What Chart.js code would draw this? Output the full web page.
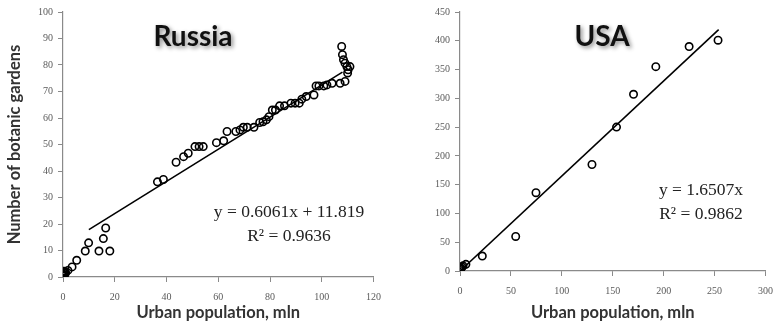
<!DOCTYPE html>
<html>
<head>
<meta charset="utf-8">
<script src="https://cdn.jsdelivr.net/npm/chart.js@4/dist/chart.umd.min.js"></script>
<style>
  html, body { margin: 0; padding: 0; background: #ffffff; }
  #wrap { position: relative; width: 782px; height: 334px; overflow: hidden; }
  #c1 { position: absolute; left: 0; top: 0; }
  #c2 { position: absolute; left: 390px; top: 0; }
</style>
</head>
<body>
<div id="wrap">
  <canvas id="c1" width="390" height="334"></canvas>
  <canvas id="c2" width="392" height="334"></canvas>
</div>
<script>
// ---- Russia data ----
const russiaX = [0.1, 0.2, 0.3, 0.5, 0.6, 0.8, 1.0, 0.2, 0.4, 1.9, 3.5, 5.3, 8.6, 9.9, 13.9, 15.6, 16.5, 18.1,
  36.5, 38.8, 43.7, 46.6, 48.4, 51.0, 52.6, 54.2, 59.3, 62.1, 63.4, 66.8, 68.4, 69.7, 71.2, 73.8,
  76.0, 77.3, 78.6, 79.6, 80.9, 82.1, 83.7, 85.6, 88.1, 89.7, 91.3, 92.3, 94.0, 97.0, 97.8, 98.9,
  100.8, 102.0, 104.0, 107.1, 109.0, 107.7, 108.0, 108.4, 109.0, 109.7, 110.2, 110.9, 110.0];
const russiaY = [0.5, 1.0, 1.5, 2.0, 0.8, 2.0, 1.5, 0.2, 2.2, 2.5, 3.8, 6.3, 9.8, 12.9, 9.8, 14.5, 18.5, 9.8,
  35.9, 36.8, 43.3, 45.4, 46.7, 49.2, 49.2, 49.2, 50.7, 51.4, 54.9, 54.9, 55.5, 56.5, 56.5, 56.5,
  58.3, 58.6, 59.3, 60.5, 63.0, 63.0, 64.6, 64.6, 65.6, 65.6, 65.6, 67.1, 68.1, 68.7, 72.1, 72.1,
  72.1, 72.5, 73.1, 73.1, 73.8, 87.0, 83.9, 82.0, 80.7, 79.4, 78.2, 79.4, 77.0];
const russiaTrendX = [10, 108];
const russiaTrendY = [17.9, 77.3];
const russiaXTicks = [0, 20, 40, 60, 80, 100, 120];
const russiaYTicks = [0, 10, 20, 30, 40, 50, 60, 70, 80, 90, 100];
const russiaEq = ["y = 0.6061x + 11.819", "R² = 0.9636"];

// ---- USA data ----
const usaX = [0, 0.5, 1, 2, 3, 5.8, 21.9, 54.7, 74.6, 129.6, 153.7, 170.4, 192.3, 225, 253.4];
const usaY = [1, 3, 5, 7, 9, 11.6, 26, 60, 136, 185, 250, 307, 355, 390, 401];
const usaTrendX = [0, 254];
const usaTrendY = [0, 419.3];
const usaXTicks = [0, 50, 100, 150, 200, 250, 300];
const usaYTicks = [0, 50, 100, 150, 200, 250, 300, 350, 400, 450];
const usaEq = ["y = 1.6507x", "R² = 0.9862"];

const AXIS = '#8a8a8a';
const TICKTXT = '#5a5a5a';
const tickFont = { family: '"Liberation Serif", "DejaVu Serif", serif', size: 10 };
const titleFont = { family: 'Lato, "Open Sans", sans-serif', size: 16.5, weight: 'bold' };

function pts(xs, ys) { return xs.map((x, i) => ({ x: x, y: ys[i] })); }

const overlay = {
  id: 'overlay',
  afterDraw(chart, args, opts) {
    const ctx = chart.ctx;
    ctx.save();
    ctx.font = 'bold ' + opts.titleSize + 'px Lato, "Open Sans", sans-serif';
    ctx.textAlign = 'center';
    ctx.textBaseline = 'middle';
    ctx.shadowColor = 'rgba(0,0,0,0.45)';
    ctx.shadowBlur = 4;
    ctx.shadowOffsetX = 2;
    ctx.shadowOffsetY = 2;
    ctx.fillStyle = '#111111';
    ctx.fillText(opts.title, opts.titleX, opts.titleY);
    ctx.restore();
    ctx.save();
    ctx.font = '17.5px "Liberation Serif", "DejaVu Serif", serif';
    ctx.textAlign = 'center';
    ctx.textBaseline = 'middle';
    ctx.fillStyle = '#222222';
    ctx.fillText(opts.eq[0], opts.eqX, opts.eqY);
    ctx.fillText(opts.eq[1], opts.eqX, opts.eqY + 24);
    ctx.restore();
  }
};

function makeChart(id, cfg) {
  return new Chart(document.getElementById(id), {
    type: 'scatter',
    data: {
      datasets: [
        {
          type: 'line',
          data: pts(cfg.trendX, cfg.trendY),
          borderColor: '#000000',
          borderWidth: 1.6,
          pointRadius: 0,
          fill: false,
          order: 2
        },
        {
          data: pts(cfg.xs, cfg.ys),
          pointRadius: 3.7,
          pointBorderWidth: 1.6,
          pointBorderColor: '#000000',
          pointBackgroundColor: 'rgba(255,255,255,0)',
          order: 1
        }
      ]
    },
    options: {
      responsive: false,
      animation: false,
      devicePixelRatio: 1,
      layout: { padding: { top: 12, right: 11, left: 0, bottom: 0 } },
      plugins: {
        legend: { display: false },
        tooltip: { enabled: false },
        overlay: cfg.overlay
      },
      scales: {
        x: {
          type: 'linear',
          min: cfg.xTicks[0],
          max: cfg.xTicks[cfg.xTicks.length - 1],
          afterBuildTicks: (s) => { s.ticks = cfg.xTicks.map(v => ({ value: v })); },
          afterFit: (s) => { s.height = cfg.xHeight; },
          grid: { display: true, drawOnChartArea: false, drawTicks: true, tickLength: 5, color: AXIS, lineWidth: 1 },
          border: { display: true, color: AXIS, width: 1.2 },
          ticks: { color: TICKTXT, font: tickFont, padding: 9, maxRotation: 0 },
          title: { display: true, text: 'Urban population, mln', color: '#333333', font: titleFont, padding: { top: 0, bottom: 11 }, align: 'center' }
        },
        y: {
          type: 'linear',
          min: cfg.yTicks[0],
          max: cfg.yTicks[cfg.yTicks.length - 1],
          afterBuildTicks: (s) => { s.ticks = cfg.yTicks.map(v => ({ value: v })); },
          afterFit: (s) => { s.width = cfg.yWidth; },
          grid: { display: true, drawOnChartArea: false, drawTicks: true, tickLength: 5, color: AXIS, lineWidth: 1 },
          border: { display: true, color: AXIS, width: 1.2 },
          ticks: { color: TICKTXT, font: tickFont, padding: 5 },
          title: { display: cfg.yTitle, text: 'Number of botanic gardens', color: '#333333', font: titleFont, padding: { top: 5, bottom: 0 } }
        }
      }
    },
    plugins: [overlay]
  });
}

makeChart('c1', {
  xs: russiaX, ys: russiaY, trendX: russiaTrendX, trendY: russiaTrendY,
  xTicks: russiaXTicks, yTicks: russiaYTicks, xHeight: 57, yWidth: 63, yTitle: true,
  overlay: { title: 'Russia', titleSize: 28, titleX: 193, titleY: 37, eq: russiaEq, eqX: 289, eqY: 212 }
});
makeChart('c2', {
  xs: usaX, ys: usaY, trendX: usaTrendX, trendY: usaTrendY,
  xTicks: usaXTicks, yTicks: usaYTicks, xHeight: 63, yWidth: 70, yTitle: false,
  overlay: { title: 'USA', titleSize: 28, titleX: 212, titleY: 37, eq: usaEq, eqX: 311, eqY: 190 }
});
</script>
</body>
</html>
